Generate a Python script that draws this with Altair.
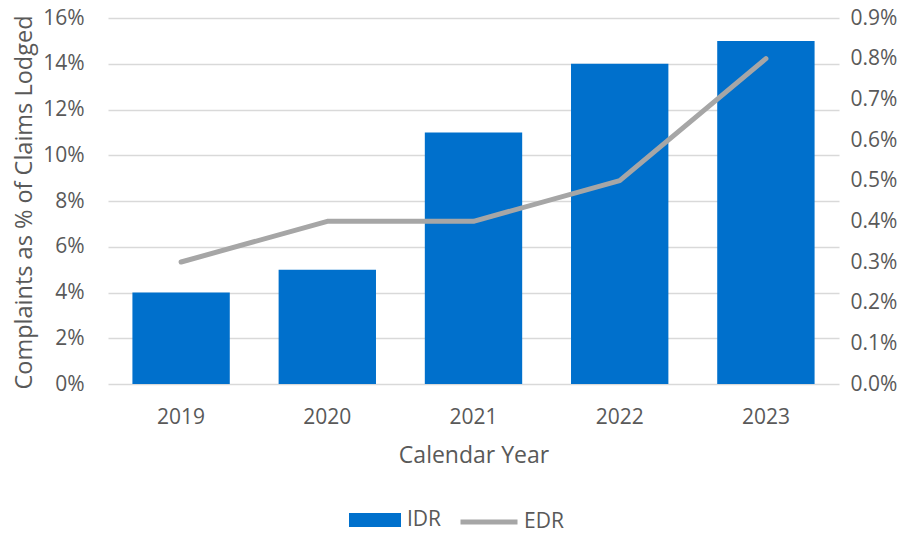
import altair as alt
import pandas as pd

years = ["2019", "2020", "2021", "2022", "2023"]
idr = [0.04, 0.05, 0.11, 0.14, 0.15]
edr = [0.003, 0.004, 0.004, 0.005, 0.008]
left_ticks = [0, 0.02, 0.04, 0.06, 0.08, 0.10, 0.12, 0.14, 0.16]
right_ticks = [0, 0.001, 0.002, 0.003, 0.004, 0.005, 0.006, 0.007, 0.008, 0.009]

BLUE = "#0070CC"
GREY = "#A6A6A6"
TXT = "#595959"
FONT = "Open Sans"

df = pd.DataFrame({
    "year": years,
    "IDR": idr,
    "EDR": edr,
    "s_idr": ["IDR"] * len(years),
    "s_edr": ["EDR"] * len(years),
})

x = alt.X(
    "year:N",
    title="Calendar Year",
    scale=alt.Scale(paddingInner=0.334, paddingOuter=0.167),
    axis=alt.Axis(
        labelAngle=0, domain=False, ticks=False, tickSize=0,
        labelPadding=39, labelBaseline="alphabetic",
        titleY=78, titleBaseline="alphabetic",
    ),
)

bars = alt.Chart(df).mark_bar(color=BLUE).encode(
    x=x,
    y=alt.Y(
        "IDR:Q",
        title="Complaints as % of Claims Lodged",
        scale=alt.Scale(domain=[0, 0.16], nice=False),
        axis=alt.Axis(
            values=left_ticks, format=".0%", grid=True, domain=False,
            ticks=False, tickSize=0, labelPadding=24,
            titleX=-77, titleY=184, titleBaseline="alphabetic",
            titleAlign="center", titleAngle=-90, titleFontSize=23.5,
        ),
    ),
    color=alt.Color(
        "s_idr:N",
        scale=alt.Scale(domain=["IDR"], range=[BLUE]),
        legend=alt.Legend(
            orient="none", legendX=241, legendY=476, title=None,
            symbolType="M-1,-0.27H1V0.27H-1Z", symbolSize=2704,
            symbolStrokeWidth=0, labelOffset=6,
        ),
    ),
)

line = alt.Chart(df).mark_line(
    color=GREY, strokeWidth=5, strokeCap="round", strokeJoin="round"
).encode(
    x=x,
    y=alt.Y(
        "EDR:Q",
        title=None,
        scale=alt.Scale(domain=[0, 0.009], nice=False),
        axis=alt.Axis(
            orient="right", values=right_ticks, format=".1%", grid=False,
            domain=False, ticks=False, tickSize=0, labelPadding=11,
        ),
    ),
    color=alt.Color(
        "s_edr:N",
        scale=alt.Scale(domain=["EDR"], range=[GREY]),
        legend=alt.Legend(
            orient="none", legendX=350, legendY=473, title=None,
            symbolType="stroke", symbolSize=3249, symbolStrokeWidth=5,
            labelOffset=4,
        ),
    ),
)

chart = (
    alt.layer(bars, line)
    .resolve_scale(y="independent", color="independent")
    .properties(
        width=731, height=366,
        padding={"left": 100, "top": 10, "right": 65, "bottom": 146},
        autosize=alt.AutoSizeParams(type="none"),
    )
    .configure_view(stroke=None)
    .configure_axis(
        labelFont=FONT, titleFont=FONT, labelColor=TXT, titleColor=TXT,
        labelFontSize=21, titleFontSize=23, titleFontWeight="normal",
        gridColor="#D9D9D9", gridWidth=1.3,
    )
    .configure_legend(
        labelFont=FONT, labelColor=TXT, labelFontSize=21, padding=0,
    )
)

chart.save("out.html", embed_options={"renderer": "svg", "actions": False})
